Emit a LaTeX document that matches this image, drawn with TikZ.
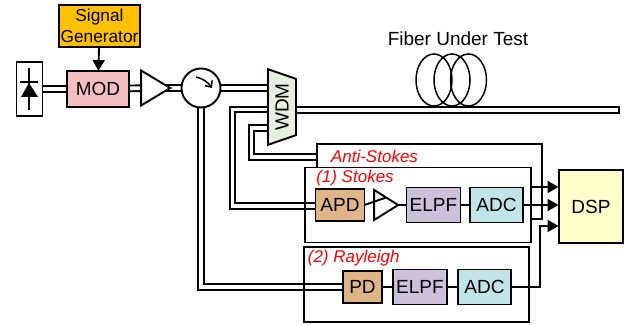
\documentclass[tikz,border=0pt]{standalone}
\usepackage{fontspec}
\setmainfont{Liberation Sans}
\usetikzlibrary{arrows.meta,backgrounds,shapes.geometric}
\definecolor{modpink}{HTML}{F4BFC3}
\definecolor{gengold}{HTML}{FFC000}
\definecolor{wdmgreen}{HTML}{E6F0DF}
\definecolor{pdtan}{HTML}{DFB486}
\definecolor{elpfpurple}{HTML}{CCC0DA}
\definecolor{adcblue}{HTML}{C0E4E8}
\definecolor{dspyellow}{HTML}{FFFFCC}
\tikzset{
  block/.style={draw,line width=1.9pt,inner sep=0pt,outer sep=0pt,font=\fontsize{19}{20}\selectfont},
  amp/.style={draw,line width=1.9pt,fill=white,shape=isosceles triangle,isosceles triangle stretches,inner sep=0pt,outer sep=0pt},
  fiber/.style={line width=1.9pt,double=white,double distance=3.8pt},
  wire/.style={line width=1.9pt},
  feed/.style={line width=1.9pt,-{Triangle[length=11pt,width=12pt]}},
  groupbox/.style={draw,line width=1.9pt,inner sep=0pt,outer sep=0pt},
  tag/.style={text=red,font=\fontsize{17}{18}\selectfont\itshape,inner sep=0pt}
}
\begin{document}
\begin{tikzpicture}[x=1pt,y=-1pt]
      \useasboundingbox (0,0) rectangle (625,326);
      \draw
        (29.5,89) node[block,fill=white,minimum width=26,minimum height=54] (laser){}
        (98,89) node[block,fill=modpink,minimum width=62,minimum height=36] (mod){MOD}
        (99.5,26) node[block,fill=gengold,minimum width=81,minimum height=42,font=\fontsize{17.3}{21}\selectfont,align=center] (gen){Signal\\Generator}
        (151,88) node[amp,minimum width=35,minimum height=29] (amp1){}
        (201,88) node[block,fill=white,shape=circle,minimum size=39] (circ){}
        (282,107) node[block,fill=wdmgreen,shape=trapezium,trapezium left angle=58,trapezium right angle=58,trapezium stretches=true,shape border rotate=180,rotate=90,minimum width=76,minimum height=28] (wdm){WDM}
        (457.5,110) node[block,fill=white,minimum width=323,minimum height=6] (fut){}
        (458,39) node[inner sep=0pt,font=\fontsize{19}{20}\selectfont] (futlabel){Fiber Under Test}
        (340,205) node[block,fill=pdtan,minimum width=49,minimum height=32] (apd){APD}
        (382.5,205) node[amp,minimum width=30,minimum height=24] (amp2){}
        (433.5,205) node[block,fill=elpfpurple,minimum width=54,minimum height=35] (elpf1){ELPF}
        (496.5,205) node[block,fill=adcblue,minimum width=53,minimum height=35] (adc1){ADC}
        (362.5,287) node[block,fill=pdtan,minimum width=39,minimum height=32] (pd){PD}
        (420,287) node[block,fill=elpfpurple,minimum width=54,minimum height=35] (elpf2){ELPF}
        (484.5,287) node[block,fill=adcblue,minimum width=53,minimum height=35] (adc2){ADC}
        (591,206.5) node[block,fill=dspyellow,minimum width=64,minimum height=73] (dsp){DSP}
        (417.75,205) node[groupbox,minimum width=226,minimum height=75] (stokes){}
        (416.75,284.75) node[groupbox,minimum width=225,minimum height=75] (rayleigh){}
        (374.5,156) node[tag] (antilabel){Anti-Stokes}
        (355,178) node[tag] (stokeslabel){(1) Stokes}
        (353.7,258) node[tag] (rayleighlabel){(2) Rayleigh};
      \coordinate (wdmstokes) at (268,109.5);
      \coordinate (wdmanti) at (268,128);
      \coordinate (antiin) at (317,157);
      \coordinate (antiout) at (530.75,187);
      \coordinate (dspanti) at (558.5,187);
      \coordinate (dspstokes) at (558.5,205);
      \coordinate (dsprayleigh) at (558.5,226);
      % fibers sit under the blocks
      \begin{scope}[on background layer]
        \draw[fiber] (laser) to (mod);
        \draw[fiber] (mod) to (amp1);
        \draw[fiber] (amp1.center) to (circ);
        \draw[fiber] (circ) to (circ-|wdm);
        \draw[fiber] (circ) |- (pd);
        \draw[fiber] (wdmstokes) -| (232.5,206) -- (apd.west|-0,206);
        \draw[fiber] (wdmanti) -| (251.5,157) -- (antiin);
      \end{scope}
      % diode and circulator symbols
      \draw[wire] (29,68) -- (29,110);
      \draw[wire] (20,82) -- (38,82);
      \fill (29,83) -- (38,97) -- (21,97) -- cycle;
      \draw[line width=1.5pt,-{Straight Barb[length=5pt,width=9pt]}] (196,77) to[bend left=20] (212,88);
      % coil
      \draw[line width=1.5pt] (434,80) ellipse (18 and 26);
      \draw[line width=1.5pt] (452,80) ellipse (18 and 26);
      \draw[line width=1.5pt] (468.5,80) ellipse (18 and 26);
      % anti-stokes box runs behind the stokes box
      \draw[line width=1.9pt] (530.75,219) -| (542,144) -| (317,167.5);
      \begin{scope}[wire]
        \draw (apd.east) to (amp2.left side);
        \draw (amp2.apex) to (elpf1.west);
        \draw (elpf1.east) to (adc1.west);
        \draw (pd.east) to (elpf2.west);
        \draw (elpf2.east) to (adc2.west);
      \end{scope}
      \begin{scope}[feed]
        \draw (gen) to (mod);
        \draw (antiout) to (dspanti);
        \draw (adc1.east) to (dspstokes);
        \draw (adc2.east) -| (540,226) -- (dsprayleigh);
      \end{scope}
    \end{tikzpicture}
\end{document}
